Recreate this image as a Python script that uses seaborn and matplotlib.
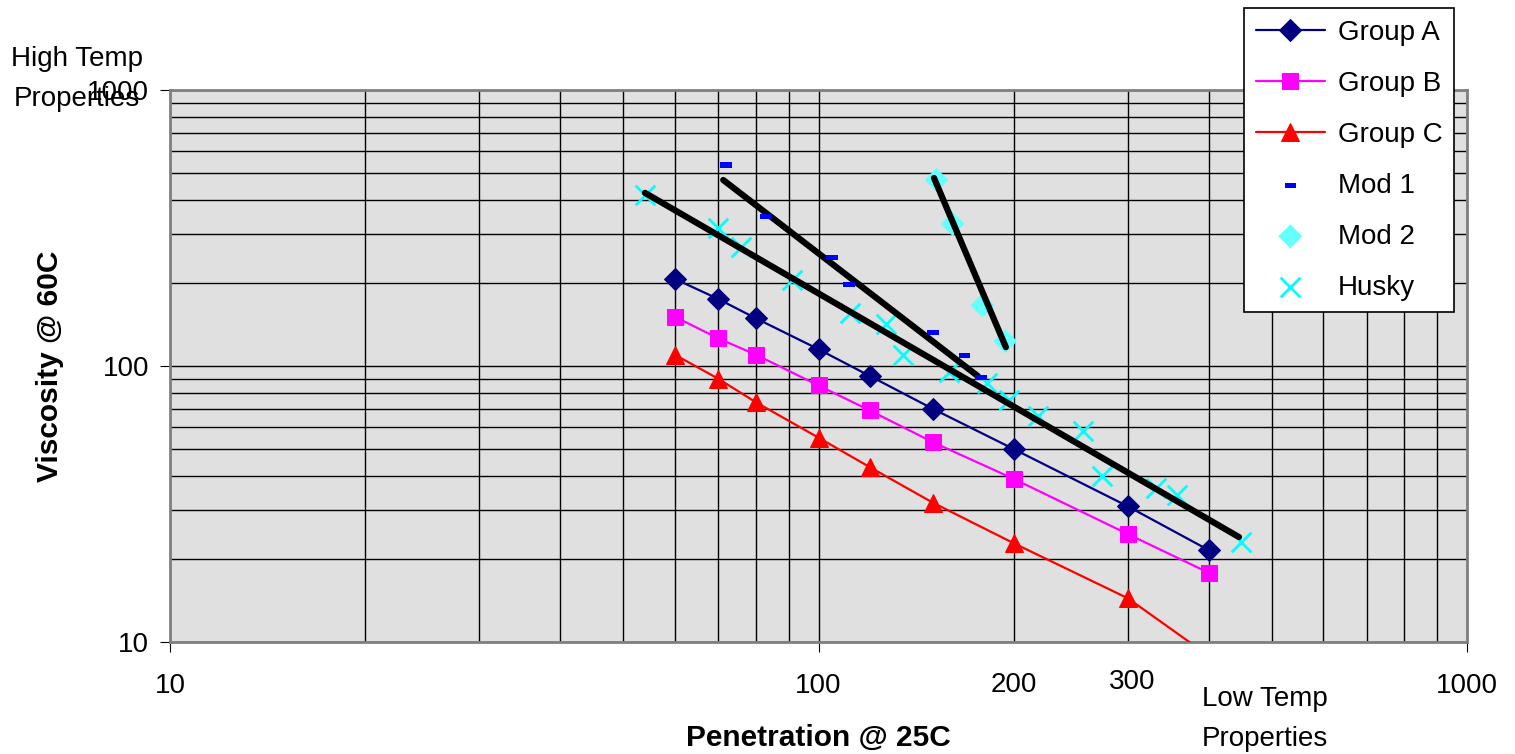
import numpy as np
import matplotlib
matplotlib.use('Agg')
import matplotlib.pyplot as plt
import seaborn as sns

# Group data (penetration @ 25C, viscosity @ 60C)
pen_groups = [60, 70, 80, 100, 120, 150, 200, 300, 400]
visc_a = [207, 175, 149, 115, 92, 70, 50, 31, 21.5]
visc_b = [151, 126, 110, 85, 69, 53, 39, 24.6, 17.8]
visc_c = [110, 90, 74, 55, 43, 32, 22.8, 14.4, 8.9]

# Modified binders
pen_mod1 = [72, 83, 105, 111.5, 150, 168, 178]
visc_mod1 = [535, 347, 248, 197, 132, 109, 91]
pen_mod2 = [152, 161, 179, 194]
visc_mod2 = [472, 327, 166, 123]

# Husky
pen_husky = [54, 70, 76, 91, 112, 127, 135, 159, 182, 197, 218, 256, 274, 331, 357, 448]
visc_husky = [417, 316, 270, 205, 156, 142, 110, 95, 87, 75, 66, 58, 40, 36, 34, 23]

# trend lines (end points)
trend_mod1_x, trend_mod1_y = [71.3, 176], [472, 92]
trend_mod2_x, trend_mod2_y = [150.7, 194.5], [480, 117]
trend_husky_x, trend_husky_y = [54, 445], [424, 24]

sns.set_style('ticks')
plt.rcParams['font.family'] = ['Liberation Sans', 'DejaVu Sans']
plt.rcParams.update({'text.color': 'black', 'axes.labelcolor': 'black',
                     'xtick.color': 'black', 'ytick.color': 'black'})
FS = 20

fig = plt.figure(figsize=(15.15, 7.54), dpi=100)
ax = fig.add_axes([170 / 1515, 1 - 642 / 754, (1467 - 170) / 1515, (642 - 90) / 754])
ax.set_facecolor('#e0e0e0')

# trend lines (thick black)
for tx, ty in [(trend_mod1_x, trend_mod1_y), (trend_mod2_x, trend_mod2_y), (trend_husky_x, trend_husky_y)]:
    sns.lineplot(x=tx, y=ty, ax=ax, color='black', lw=4.5, legend=False, zorder=3)

sns.lineplot(x=pen_groups, y=visc_a, ax=ax, color='#000080', lw=1.6, marker='D', markersize=11,
             markeredgecolor='#000080', label='Group A', zorder=4)
sns.lineplot(x=pen_groups, y=visc_b, ax=ax, color='#ff00ff', lw=1.6, marker='s', markersize=11.5,
             markeredgecolor='#ff00ff', label='Group B', zorder=4)
sns.lineplot(x=pen_groups, y=visc_c, ax=ax, color='#ff0000', lw=1.6, marker='^', markersize=13,
             markeredgecolor='#ff0000', label='Group C', zorder=4)

dash = [(-1, -0.45), (1, -0.45), (1, 0.45), (-1, 0.45)]
sns.scatterplot(x=pen_mod1, y=visc_mod1, ax=ax, color='#0000ff', marker=dash, s=70,
                edgecolor='none', label='Mod 1', zorder=5)
sns.scatterplot(x=pen_mod2, y=visc_mod2, ax=ax, color='#66ffff', marker='D', s=150,
                edgecolor='none', label='Mod 2', zorder=2)
sns.scatterplot(x=pen_husky, y=visc_husky, ax=ax, color='#00ffff', marker='x', s=200,
                linewidth=2, label='Husky', zorder=2)

ax.set(xscale='log', yscale='log', xlim=(10, 1000), ylim=(10, 1000))
ax.grid(True, which='both', color='black', lw=1.0)
ax.set_axisbelow(True)
for s in ax.spines.values():
    s.set_color('#808080')
    s.set_linewidth(2)

ax.set_xticks([10, 100, 1000])
ax.set_xticklabels(['10', '100', '1000'])
ax.set_yticks([10, 100, 1000])
ax.set_yticklabels(['10', '100', '1000'])
ax.tick_params(which='major', labelsize=FS, length=7, color='black')
ax.tick_params(axis='x', pad=15)
ax.tick_params(axis='y', pad=8)
ax.tick_params(which='minor', length=0)

ax.set_xlabel('Penetration @ 25C', fontsize=21.5, fontweight='bold', labelpad=18)
ax.set_ylabel('Viscosity @ 60C', fontsize=21.5, fontweight='bold', labelpad=17)

ax.text(200, 6.98, '200', fontsize=FS, ha='center', va='center', transform=ax.transData, clip_on=False)
ax.text(305, 7.15, '300', fontsize=FS, ha='center', va='center', transform=ax.transData, clip_on=False)
fig.text(77 / 1515, 1 - 79 / 754, 'High Temp\nProperties', fontsize=FS, ha='center', va='center',
         linespacing=1.75)
fig.text(1265 / 1515, 1 - 719 / 754, 'Low Temp\nProperties', fontsize=FS, ha='center', va='center',
         linespacing=1.75)

handles, labels = ax.get_legend_handles_labels()
ax.get_legend().remove()
order = ['Group A', 'Group B', 'Group C', 'Mod 1', 'Mod 2', 'Husky']
hmap = dict(zip(labels, handles))
leg = fig.legend([hmap[k] for k in order], order, loc='upper right',
                 bbox_to_anchor=(1454 / 1515, 1 - 8 / 754), fontsize=FS, frameon=True,
                 fancybox=False, edgecolor='black', framealpha=1, handlelength=2.5,
                 labelspacing=0.9, borderpad=0.42, handletextpad=0.45, borderaxespad=0)
leg.get_frame().set_linewidth(1.2)

fig.savefig('out.png', dpi=100)
